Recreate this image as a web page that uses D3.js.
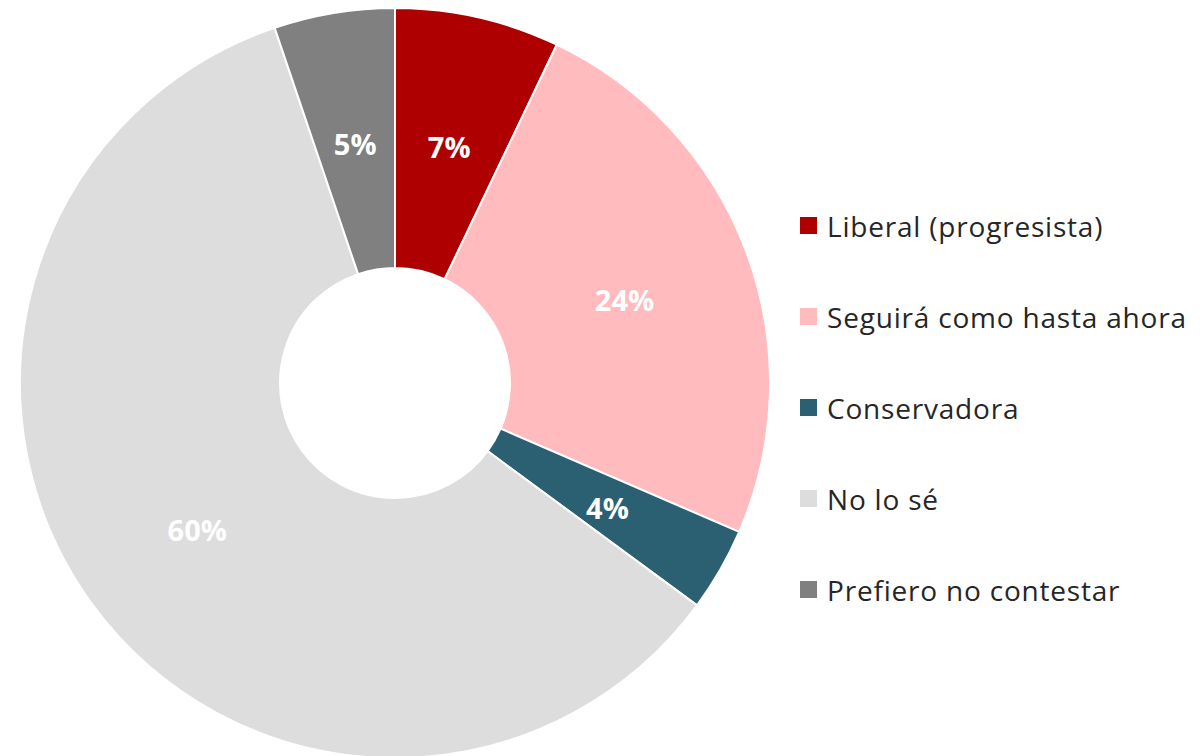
<!DOCTYPE html>
<html>
<head>
<meta charset="utf-8">
<script src="https://cdn.jsdelivr.net/npm/d3@7"></script>
<style>
  html, body { margin: 0; padding: 0; background: #ffffff; }
  svg { display: block; }
</style>
</head>
<body>
<svg id="chart" width="1200" height="756"></svg>
<script>
const categories = ["Liberal (progresista)", "Seguirá como hasta ahora", "Conservadora", "No lo sé", "Prefiero no contestar"];
const values = [7.1, 24.4, 3.6, 59.7, 5.2];
const valueLabels = ["7%", "24%", "4%", "60%", "5%"];
const colors = ["#AE0000", "#FFBBBE", "#2B6072", "#DDDDDD", "#808080"];

const data = categories.map((c, i) => ({ name: c, value: values[i], label: valueLabels[i], color: colors[i] }));

const svg = d3.select("#chart");
const cx = 395, cy = 383;
const outerR = 375, innerR = 115;

const pie = d3.pie().value(d => d.value).sort(null);
const arc = d3.arc().innerRadius(innerR).outerRadius(outerR);
const labelArc = d3.arc().innerRadius(245).outerRadius(245);

const g = svg.append("g").attr("transform", `translate(${cx},${cy})`);
const arcs = pie(data);

g.selectAll("path.slice")
  .data(arcs)
  .enter().append("path")
  .attr("class", "slice")
  .attr("d", arc)
  .attr("fill", d => d.data.color)
  .attr("stroke", "#ffffff")
  .attr("stroke-width", 2);

g.selectAll("text.lbl")
  .data(arcs)
  .enter().append("text")
  .attr("class", "lbl")
  .attr("transform", d => { const c = labelArc.centroid(d); return `translate(${c[0]},${c[1] + 2})`; })
  .attr("text-anchor", "middle")
  .attr("dominant-baseline", "central")
  .attr("font-family", "'Open Sans', 'Noto Sans', sans-serif")
  .attr("font-weight", "bold")
  .attr("font-size", 29)
  .attr("fill", "#ffffff")
  .text(d => d.data.label);

const legendY = d3.scalePoint().domain(categories).range([225, 589]);
const legend = svg.append("g");
const items = legend.selectAll("g.item")
  .data(data)
  .enter().append("g")
  .attr("class", "item")
  .attr("transform", d => `translate(800,${legendY(d.name)})`);

items.append("rect")
  .attr("x", 0).attr("y", -8)
  .attr("width", 17).attr("height", 17)
  .attr("fill", d => d.color);

items.append("text")
  .attr("x", 27).attr("y", 1)
  .attr("dominant-baseline", "central")
  .attr("font-family", "'Open Sans', 'Noto Sans', sans-serif")
  .attr("font-size", 28)
  .attr("letter-spacing", 0.8)
  .attr("fill", "#262626")
  .text(d => d.name);
</script>
</body>
</html>
